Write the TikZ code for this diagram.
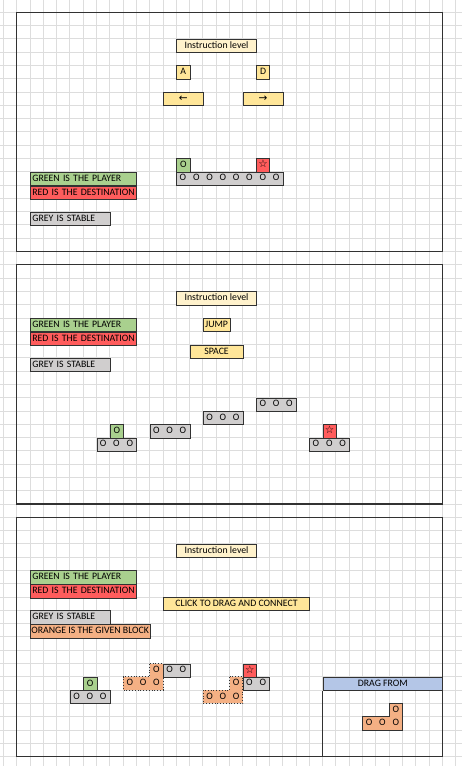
\documentclass[tikz,border=0pt]{standalone}
\usepackage{fontspec}
\setmainfont{Carlito}
\newfontfamily\symfont{DejaVu Sans}
\usetikzlibrary{positioning}
\definecolor{lvlgrid}{RGB}{221,221,221}
\definecolor{lvlframe}{RGB}{50,50,50}
\definecolor{lvlgreen}{RGB}{169,208,142}
\definecolor{lvlred}{RGB}{255,92,92}
\definecolor{lvlgrey}{RGB}{208,206,206}
\definecolor{lvlcream}{RGB}{255,242,204}
\definecolor{lvlyellow}{RGB}{255,230,153}
\definecolor{lvlorange}{RGB}{244,176,132}
\definecolor{lvlblue}{RGB}{180,198,231}
\tikzset{
  cellbox/.style={draw=lvlframe, line width=0.7pt, inner sep=0pt, anchor=north west,
    minimum height=13.29pt, text height=6.8pt, text depth=1.8pt},
  wide/.style={minimum width=#1*13.3pt},
  lblbox/.style={cellbox, wide=#1, text width={#1*13.3pt-4pt}, align=left, inner xsep=2pt},
  ocell/.style={inner sep=0pt, text height=6.8pt, text depth=1.8pt},
  framebox/.style={draw=lvlframe, line width=1.1pt},
  piece/.style={draw=lvlframe, line width=0.8pt},
}
\newcommand{\symtxt}[1]{{\symfont\fontsize{10.5pt}{11pt}\selectfont #1}}

\begin{document}
\begin{tikzpicture}[x=13.3pt, y=-13.29pt, font=\fontsize{9.8pt}{11pt}\selectfont]
  \useasboundingbox (-0.2556,-0.9255) rectangle (34.406,56.712);
  % sheet grid
  \foreach \c in {0,...,34}
    \draw[lvlgrid, line width=0.9pt] (\c,-1) -- (\c,57);
  \foreach \r in {-1,...,56}
    \draw[lvlgrid, line width=0.9pt] (-1,\r) -- (35,\r);
  % the three level frames
  \foreach \t/\b in {0/18, 19/37, 38/56}
    \draw[framebox] (1,\t) rectangle (33,\b);

  % legend + title of every level
  \foreach \lv/\ti/\r/\g in {1/2/12/15, 2/21/23/26, 3/40/42/45}
  {
    \node[cellbox, wide=6, fill=lvlcream] (instr\lv) at (13,\ti) {Instruction level};
    \node[lblbox=8, fill=lvlgreen] (green\lv) at (2,\r) {\mbox{GREEN IS THE PLAYER}};
    \node[lblbox=8, fill=lvlred, below=0pt of green\lv] (red\lv) {\mbox{RED IS THE DESTINATION}};
    \node[lblbox=6, fill=lvlgrey] (grey\lv) at (2,\g) {\mbox{GREY IS STABLE}};
  }
  \node[cellbox, wide=9, fill=lvlorange, below=0pt of grey3.south west, anchor=north west]
    (orange3) {ORANGE IS THE GIVEN BLOCK};

  % keys
  \node[cellbox, wide=1, fill=lvlyellow] (keyA) at (13,4) {A};
  \node[cellbox, wide=1, fill=lvlyellow] (keyD) at (19,4) {D};
  \node[cellbox, wide=3, fill=lvlyellow] (keyleft) at (12,6) {\symtxt{←}};
  \node[cellbox, wide=3, fill=lvlyellow] (keyright) at (18,6) {\symtxt{→}};
  \node[cellbox, wide=2, fill=lvlyellow] (keyjump) at (15,23) {JUMP};
  \node[cellbox, wide=4, fill=lvlyellow] (keyspace) at (14,25) {SPACE};
  \node[cellbox, wide=11, fill=lvlyellow] (keyclick) at (12,44) {CLICK TO DRAG AND CONNECT};

  % given blocks (orange, dotted)
  \foreach \c/\r [count=\i] in {11/49, 9/50, 10/50, 11/50}
  {
    \fill[lvlorange] (\c,\r) rectangle ++(1,1);
    \node[ocell] (blockA\i) at (\c+0.5,\r+0.5) {O};
  }
  \draw[piece, dotted] (11,49) -- (12,49) -- (12,51) -- (9,51) -- (9,50) -- (11,50) -- cycle;
  \foreach \c/\r [count=\i] in {17/50, 15/51, 16/51, 17/51}
  {
    \fill[lvlorange] (\c,\r) rectangle ++(1,1);
    \node[ocell] (blockB\i) at (\c+0.5,\r+0.5) {O};
  }
  \draw[piece, dotted] (17,50) -- (18,50) -- (18,52) -- (15,52) -- (15,51) -- (17,51) -- cycle;

  % stable rows
  \foreach \nm/\c/\r/\n in {row1/13/12/8, base2/7/32/3, plat2b/11/31/3, plat2c/15/30/3,
      plat2d/19/29/3, goalrow2/23/32/3, base3/5/51/3, stoneA/12/49/2, stoneB/18/50/2}
  {
    \node[cellbox, wide=\n, fill=lvlgrey] (\nm) at (\c,\r) {};
    \foreach \k in {1,...,\n}
      \node[ocell] (\nm-\k) at (\c+\k-0.5,\r+0.5) {O};
  }

  % players and destinations
  \foreach \nm/\c/\r in {player1/13/11, player2/8/31, player3/6/50}
    \node[cellbox, wide=1, fill=lvlgreen] (\nm) at (\c,\r) {O};
  \foreach \nm/\c/\r in {goal1/19/11, goal2/24/31, goal3/18/49}
    \node[cellbox, wide=1, fill=lvlred] (\nm) at (\c,\r) {\symtxt{☆}};

  % drag from area
  \node[cellbox, wide=9, fill=lvlblue] (dragfrom) at (24,50) {DRAG FROM};
  \coordinate (dragfoot) at (24,56);
  \draw[framebox] (dragfrom.south west) -- (dragfoot);
  \foreach \c/\r [count=\i] in {29/52, 27/53, 28/53, 29/53}
  {
    \fill[lvlorange] (\c,\r) rectangle ++(1,1);
    \node[ocell] (spare\i) at (\c+0.5,\r+0.5) {O};
  }
  \draw[piece] (29,52) -- (30,52) -- (30,54) -- (27,54) -- (27,53) -- (29,53) -- cycle;
\end{tikzpicture}
\end{document}
